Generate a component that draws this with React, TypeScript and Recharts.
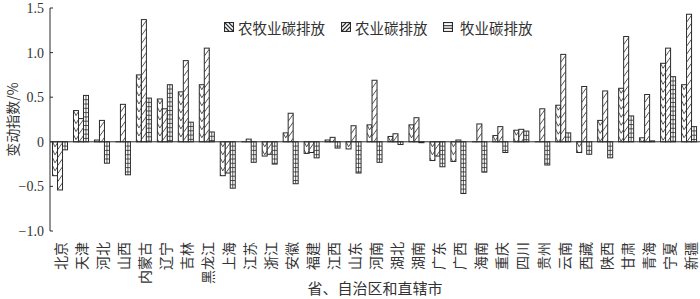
import { BarChart, Bar, XAxis, YAxis, ReferenceLine } from 'recharts';

const provinces = ['北京', '天津', '河北', '山西', '内蒙古', '辽宁', '吉林', '黑龙江', '上海', '江苏', '浙江', '安徽', '福建', '江西', '山东', '河南', '湖北', '湖南', '广东', '广西', '海南', '重庆', '四川', '贵州', '云南', '西藏', '陕西', '甘肃', '青海', '宁夏', '新疆'];

// 农牧业碳排放
const agriLivestock = [-0.38, 0.35, 0.02, 0.0, 0.75, 0.48, 0.56, 0.64, -0.38, 0.0, -0.16, 0.1, -0.13, 0.02, -0.08, 0.19, 0.06, 0.19, -0.21, -0.22, 0.0, 0.07, 0.13, 0.0, 0.41, -0.12, 0.24, 0.6, 0.045, 0.88, 0.64];
// 农业碳排放
const agriculture = [-0.54, 0.26, 0.24, 0.42, 1.37, 0.37, 0.91, 1.05, -0.35, 0.03, -0.14, 0.32, -0.12, 0.05, 0.18, 0.69, 0.09, 0.27, -0.16, 0.02, 0.2, 0.17, 0.14, 0.37, 0.98, 0.62, 0.57, 1.18, 0.53, 1.05, 1.43];
// 牧业碳排放
const livestock = [-0.09, 0.52, -0.24, -0.37, 0.49, 0.64, 0.22, 0.11, -0.52, -0.23, -0.25, -0.47, -0.18, -0.07, -0.35, -0.23, -0.03, -0.01, -0.28, -0.58, -0.34, -0.12, 0.12, -0.26, 0.1, -0.14, -0.18, 0.29, 0.01, 0.73, 0.17];

const yTicks = [-1.0, -0.5, 0, 0.5, 1.0, 1.5];
const seriesNames = ['农牧业碳排放', '农业碳排放', '牧业碳排放'];

const data = provinces.map((name, i) => ({
  name,
  agriLivestock: agriLivestock[i],
  agriculture: agriculture[i],
  livestock: livestock[i],
}));

const INK = '#2a2a2a';
const CJK = '"Noto Sans CJK SC", sans-serif';
const SERIF = '"Liberation Serif", "DejaVu Serif", serif';

type Kind = 'chevron' | 'slash' | 'grid';

function hatch(kind: Kind, x: number, top: number, w: number, h: number) {
  const out: any[] = [];
  if (kind === 'chevron') {
    for (let yy = top - 8; yy < top + h + 8; yy += 8) {
      out.push(<path key={yy} d={`M${x},${yy} L${x + w * 0.5},${yy + 5} L${x + w},${yy + 1}`} fill="none" />);
    }
  } else if (kind === 'slash') {
    for (let yy = top; yy < top + h + 8; yy += 8) {
      out.push(<line key={yy} x1={x} y1={yy} x2={x + w} y2={yy - 7} />);
    }
  } else {
    for (let yy = top + 4.3; yy < top + h; yy += 4.3) {
      out.push(<line key={yy} x1={x} y1={yy} x2={x + w} y2={yy} />);
    }
    out.push(<line key="v" x1={x + w / 2} y1={top} x2={x + w / 2} y2={top + h} />);
  }
  return out;
}

const makeShape = (kind: Kind) => (props: any) => {
  const { x, y, width, height, index } = props;
  const top = Math.min(y, y + height);
  const h = Math.abs(height);
  if (h < 0.8) {
    return <line x1={x} x2={x + width} y1={top} y2={top} stroke={INK} strokeWidth={1} />;
  }
  const id = `clip-${kind}-${index}`;
  return (
    <g>
      <defs>
        <clipPath id={id}>
          <rect x={x} y={top} width={width} height={h} />
        </clipPath>
      </defs>
      <rect x={x} y={top} width={width} height={h} fill="#fff" />
      <g clipPath={`url(#${id})`} stroke={INK} strokeWidth={0.8}>
        {hatch(kind, x, top, width, h)}
      </g>
      <rect x={x} y={top} width={width} height={h} fill="none" stroke={INK} strokeWidth={1} />
    </g>
  );
};

const XTick = ({ x, y, payload }: any) => (
  <text
    x={x}
    y={y + 3}
    transform={`rotate(-90, ${x}, ${y + 3})`}
    textAnchor="end"
    dominantBaseline="central"
    fontFamily={CJK}
    fontSize={14}
    fill="#333"
  >
    {payload.value}
  </text>
);

const fmt = (v: number) => (v === 0 ? '0' : (v < 0 ? '\u2212' : '') + Math.abs(v).toFixed(1));

const legendKinds: Kind[] = ['chevron', 'slash', 'grid'];
const legendPos = [224, 341, 443];

function LegendIcon({ kind }: { kind: Kind }) {
  let inner: any = null;
  if (kind === 'chevron') {
    inner = (
      <>
        <line x1={1} y1={1} x2={9} y2={9} />
        <line x1={1} y1={5} x2={5} y2={9} />
        <line x1={5} y1={1} x2={9} y2={5} />
      </>
    );
  } else if (kind === 'slash') {
    inner = (
      <>
        <line x1={1} y1={9} x2={9} y2={1} />
        <line x1={1} y1={5} x2={5} y2={1} />
        <line x1={5} y1={9} x2={9} y2={5} />
      </>
    );
  } else {
    inner = (
      <>
        <line x1={1} y1={3.7} x2={9} y2={3.7} />
        <line x1={1} y1={6.3} x2={9} y2={6.3} />
      </>
    );
  }
  return (
    <svg width={10} height={10} style={{ display: 'block' }}>
      <g stroke={INK} strokeWidth={1.1}>{inner}</g>
      <rect x={0.5} y={0.5} width={9} height={9} fill="none" stroke={INK} strokeWidth={1.2} />
    </svg>
  );
}

export default function App() {
  return (
    <div style={{ position: 'absolute', left: 0, top: 0, width: 700, height: 299, background: '#fff' }}>
      <BarChart
        width={700}
        height={299}
        data={data}
        margin={{ top: 8, right: 0, left: 0, bottom: 0 }}
        barCategoryGap="12%"
        barGap={0}
      >
        <XAxis
          dataKey="name"
          interval={0}
          axisLine={false}
          tickLine={false}
          height={68}
          tick={<XTick />}
          label={{ value: '省、自治区和直辖市', position: 'insideBottom', offset: 5, fontFamily: CJK, fontSize: 15, fill: '#333' }}
        />
        <YAxis
          width={50}
          domain={[-1, 1.5]}
          ticks={yTicks}
          tickFormatter={fmt}
          tickSize={-3}
          tickMargin={9}
          axisLine={{ stroke: INK, strokeWidth: 1 }}
          tickLine={{ stroke: INK, strokeWidth: 1 }}
          tick={{ fontFamily: SERIF, fontSize: 14, fill: '#333' }}
          label={{ value: '变动指数/%', angle: -90, position: 'center', dx: -12, fontFamily: CJK, fontSize: 14, fill: '#333' }}
        />
        <Bar dataKey="agriLivestock" name={seriesNames[0]} shape={makeShape('chevron')} isAnimationActive={false} />
        <Bar dataKey="agriculture" name={seriesNames[1]} shape={makeShape('slash')} isAnimationActive={false} />
        <Bar dataKey="livestock" name={seriesNames[2]} shape={makeShape('grid')} isAnimationActive={false} />
        <ReferenceLine y={0} stroke={INK} strokeWidth={1} />
      </BarChart>
      {seriesNames.map((n, i) => (
        <div
          key={n}
          style={{ position: 'absolute', left: legendPos[i], top: 17, display: 'flex', alignItems: 'center', height: 20 }}
        >
          <LegendIcon kind={legendKinds[i]} />
          <span style={{ marginLeft: i === 2 ? 7 : 4, fontFamily: CJK, fontSize: 14.5, color: '#333', whiteSpace: 'nowrap' }}>{n}</span>
        </div>
      ))}
    </div>
  );
}
